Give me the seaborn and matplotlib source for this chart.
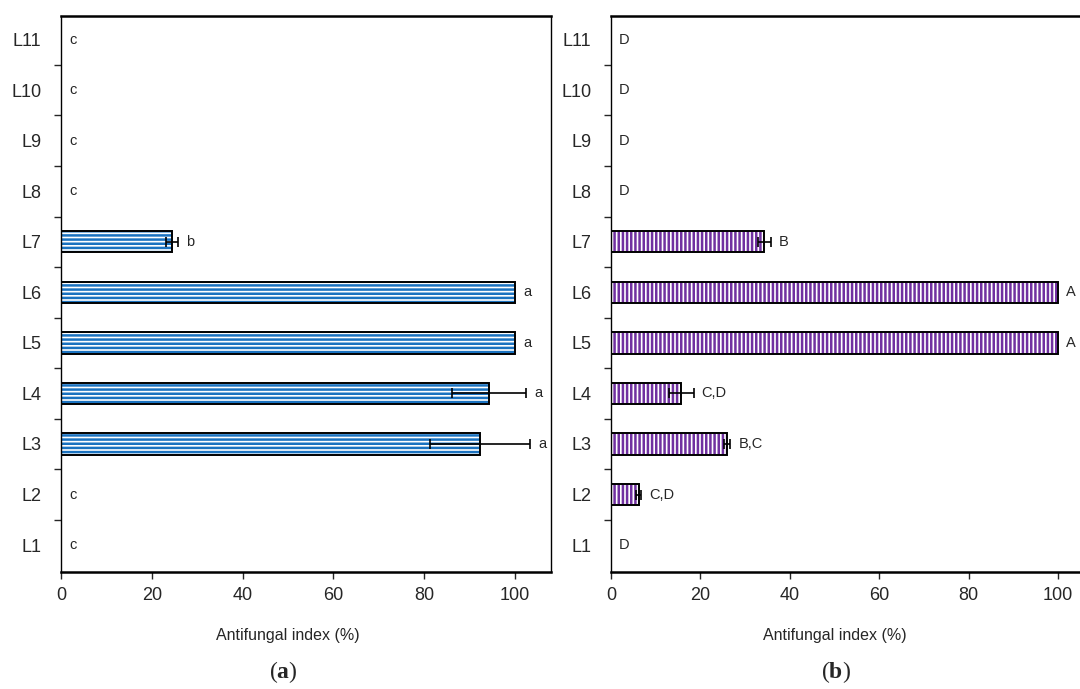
import numpy as np
import pandas as pd
import matplotlib
matplotlib.use("Agg")
import matplotlib.pyplot as plt
from matplotlib.patches import Rectangle
import seaborn as sns

# data
lines = ["L1", "L2", "L3", "L4", "L5", "L6", "L7", "L8", "L9", "L10", "L11"]
index_a = [0, 0, 92.3, 94.3, 100, 100, 24.5, 0, 0, 0, 0]
err_a = [0, 0, 11.1, 8.2, 0, 0, 1.3, 0, 0, 0, 0]
letters_a = ["c", "c", "a", "a", "a", "a", "b", "c", "c", "c", "c"]

index_b = [0, 6.2, 26.0, 15.7, 100, 100, 34.3, 0, 0, 0, 0]
err_b = [0, 0.5, 0.7, 2.8, 0, 0, 1.4, 0, 0, 0, 0]
letters_b = ["D", "C,D", "B,C", "C,D", "A", "A", "B", "D", "D", "D", "D"]

order = lines[::-1]  # L11 on top

sns.set_style("ticks")
plt.rcParams["font.family"] = ["Liberation Sans", "DejaVu Sans"]
plt.rcParams["hatch.linewidth"] = 1.8
plt.rcParams["mathtext.fontset"] = "custom"
plt.rcParams["mathtext.rm"] = "Liberation Serif"
plt.rcParams["mathtext.bf"] = "Liberation Serif:bold"

fig = plt.figure(figsize=(10.8, 6.89), dpi=100)
ax_a = fig.add_axes([0.0565, 0.170, 0.454, 0.807])
ax_b = fig.add_axes([0.5657, 0.170, 0.447, 0.807])


def draw_panel(ax, vals, errs, letters, color, hatch):
    df = pd.DataFrame({"line": lines, "value": vals, "err": errs, "letter": letters})
    sns.barplot(data=df, x="value", y="line", order=order, orient="h",
                width=0.42, errorbar=None, ax=ax)
    for p in list(ax.patches):
        p.set_facecolor("white")
        p.set_edgecolor(color)
        p.set_hatch(hatch)
        p.set_linewidth(0)
        if p.get_width() > 0:
            ax.add_patch(Rectangle(p.get_xy(), p.get_width(), p.get_height(),
                                   fill=False, edgecolor="black", lw=1.4, zorder=3))
    ypos = [order.index(n) for n in df["line"]]
    sel = df["err"] > 0
    ax.errorbar(df["value"][sel], np.array(ypos)[sel], xerr=df["err"][sel],
                fmt="none", ecolor="black", elinewidth=1.2, capsize=3.5,
                capthick=1.2, zorder=4)
    for y, v, e, t in zip(ypos, df["value"], df["err"], df["letter"]):
        ax.text(v + e + 1.8, y, t, va="center", ha="left", fontsize=10.5)

    ax.set_xlim(0, 108)
    ax.set_ylim(10.53, -0.47)
    ax.set_xticks([0, 20, 40, 60, 80, 100])
    ax.set_yticks(range(len(order)))
    ax.set_yticklabels(order)
    ax.set_yticks(np.arange(0.5, len(order) - 1, 1), minor=True)
    ax.tick_params(axis="y", which="major", length=0, pad=14, labelsize=13)
    ax.tick_params(axis="y", which="minor", length=5, width=1, direction="out")
    ax.tick_params(axis="x", length=5, width=1, direction="out", labelsize=13, pad=6)
    ax.set_ylabel("")
    ax.set_xlabel("Antifungal index (%)", fontsize=11.5, labelpad=17)
    ax.xaxis.label.set_x(50 / 108)
    for s in ["top", "right", "left", "bottom"]:
        ax.spines[s].set_visible(True)
        ax.spines[s].set_color("black")
    ax.spines["top"].set_linewidth(1.8)
    ax.spines["bottom"].set_linewidth(1.8)
    ax.spines["left"].set_linewidth(1.0)
    ax.spines["right"].set_linewidth(1.0)


draw_panel(ax_a, index_a, err_a, letters_a, "#1a72c0", "----")
draw_panel(ax_b, index_b, err_b, letters_b, "#7030a0", "||||")

fig.text(0.262, 0.025, r"($\mathbf{a}$)", ha="center", va="center",
         fontsize=17, family="Liberation Serif")
fig.text(0.774, 0.025, r"($\mathbf{b}$)", ha="center", va="center",
         fontsize=17, family="Liberation Serif")

fig.savefig("out.png", dpi=100)
